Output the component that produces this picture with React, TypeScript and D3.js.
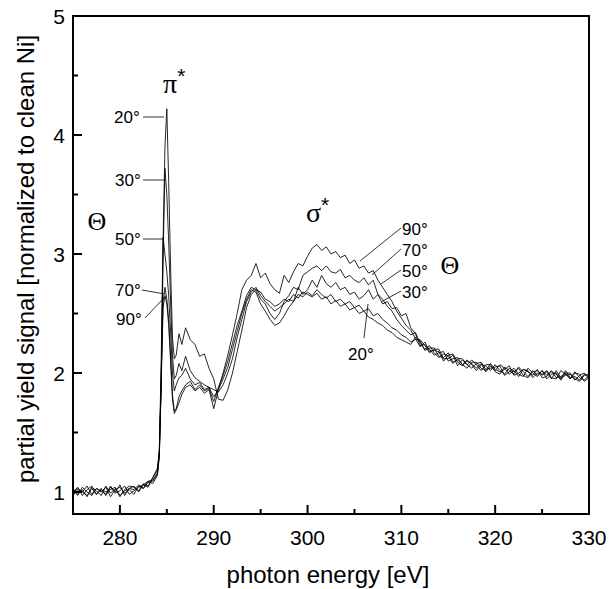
import React from "react";
import * as d3 from "d3";

const energies = [
  275, 275.5, 276, 276.5, 277, 277.5, 278, 278.5, 279, 279.5, 280, 280.5, 281, 281.5, 282, 282.5, 283, 283.5, 284,
  284.2, 284.4, 284.6, 284.8, 285.0, 285.2, 285.4, 285.6, 285.8, 286.0, 286.3, 286.6,
  287, 287.5, 288, 288.5, 289, 289.5, 290, 290.5, 291, 291.5, 292, 292.5, 293, 293.5, 294, 294.5,
  295, 295.5, 296, 296.5, 297, 297.5, 298, 298.5, 299, 299.5, 300, 300.5, 301, 301.5, 302, 302.5, 303, 303.5, 304, 304.5,
  305, 305.5, 306, 306.5, 307, 307.5, 308, 308.5, 309, 309.5, 310, 310.5, 311,
  311.5, 312, 312.5, 313, 313.5, 314, 314.5, 315, 315.5, 316, 316.5, 317, 317.5, 318, 318.5, 319, 319.5, 320,
  320.5, 321, 321.5, 322, 322.5, 323, 323.5, 324, 324.5, 325, 325.5, 326, 326.5, 327, 327.5, 328, 328.5, 329, 329.5, 330,
];

const yield20 = [
  1.00, 1.04, 0.97, 1.02, 1.05, 0.98, 1.03, 0.97, 1.04, 1.00, 1.06, 0.97, 1.03, 1.02, 1.06, 1.03, 1.09, 1.10, 1.16,
  1.30, 1.90, 3.10, 3.90, 4.22, 3.60, 2.90, 2.30, 2.12, 2.15, 2.33, 2.24,
  2.38, 2.28, 2.24, 2.14, 2.16, 2.04, 1.95, 1.78, 1.77, 1.86, 2.00, 2.18, 2.36, 2.55, 2.66, 2.70,
  2.68, 2.62, 2.60, 2.56, 2.58, 2.62, 2.60, 2.66, 2.63, 2.68, 2.66, 2.64, 2.67, 2.62, 2.64, 2.58, 2.61, 2.56, 2.58, 2.53,
  2.55, 2.50, 2.52, 2.47, 2.45, 2.42, 2.40, 2.36, 2.34, 2.30, 2.28, 2.26, 2.24,
  2.30, 2.27, 2.19, 2.21, 2.21, 2.14, 2.13, 2.17, 2.09, 2.11, 2.07, 2.11, 2.07, 2.02, 2.07, 2.06, 2.02, 2.07,
  2.02, 1.99, 2.04, 2.01, 2.04, 1.98, 1.96, 2.01, 2.02, 1.98, 2.01, 1.95, 2.02, 1.96, 1.98, 1.99, 1.94, 1.98, 2.00, 1.95,
];

const yield30 = [
  1.03, 0.98, 1.02, 0.96, 1.04, 1.01, 0.97, 1.05, 0.99, 1.03, 0.96, 1.02, 1.05, 1.04, 1.01, 1.07, 1.05, 1.12, 1.18,
  1.32, 1.95, 2.95, 3.72, 3.50, 3.10, 2.60, 2.15, 1.95, 1.98, 2.08, 2.02,
  2.14, 2.02, 1.96, 1.93, 1.90, 1.88, 1.86, 1.84, 1.90, 2.00, 2.12, 2.30, 2.45, 2.60, 2.68, 2.72,
  2.65, 2.60, 2.56, 2.52, 2.55, 2.58, 2.62, 2.60, 2.66, 2.64, 2.68, 2.65, 2.70, 2.66, 2.63, 2.66, 2.60, 2.62, 2.58, 2.60,
  2.55, 2.57, 2.52, 2.54, 2.48, 2.50, 2.45, 2.42, 2.38, 2.36, 2.32, 2.30, 2.26,
  2.28, 2.28, 2.23, 2.17, 2.20, 2.20, 2.12, 2.12, 2.15, 2.06, 2.11, 2.07, 2.11, 2.07, 2.02, 2.07, 2.07, 2.01,
  1.99, 2.05, 2.02, 1.99, 2.05, 2.01, 1.97, 2.02, 1.98, 2.02, 1.95, 1.99, 2.00, 1.95, 2.02, 1.96, 1.97, 1.94, 1.99, 1.97,
];

const yield50 = [
  0.97, 1.02, 1.00, 1.05, 0.98, 1.03, 1.00, 1.04, 0.96, 1.02, 1.04, 0.99, 1.02, 0.98, 1.05, 1.03, 1.08, 1.09, 1.15,
  1.35, 2.10, 3.14, 3.00, 2.85, 2.65, 2.35, 2.00, 1.85, 1.90, 1.96, 1.98,
  2.04, 1.95, 1.90, 1.92, 1.86, 1.88, 1.80, 1.86, 1.95, 2.05, 2.20, 2.35, 2.50, 2.62, 2.70, 2.68,
  2.58, 2.52, 2.45, 2.40, 2.42, 2.48, 2.55, 2.60, 2.72, 2.66, 2.70, 2.78, 2.72, 2.82, 2.75, 2.72, 2.76, 2.70, 2.72, 2.66,
  2.68, 2.62, 2.65, 2.70, 2.62, 2.66, 2.58, 2.60, 2.54, 2.55, 2.48, 2.50, 2.38,
  2.33, 2.23, 2.24, 2.20, 2.15, 2.17, 2.18, 2.10, 2.12, 2.13, 2.07, 2.04, 2.09, 2.09, 2.04, 2.02, 2.08, 2.03,
  2.01, 2.03, 2.06, 1.98, 2.00, 2.03, 2.02, 1.96, 2.00, 1.99, 2.02, 1.96, 1.95, 2.02, 1.99, 1.95, 2.00, 1.99, 1.93, 1.96,
];

const yield70 = [
  1.02, 0.97, 1.04, 1.00, 0.97, 1.03, 1.01, 0.98, 1.05, 0.99, 1.01, 1.05, 0.98, 1.01, 1.04, 1.06, 1.04, 1.12, 1.20,
  1.35, 1.95, 2.60, 2.72, 2.62, 2.45, 2.15, 1.82, 1.68, 1.70, 1.80, 1.85,
  1.90, 1.93, 1.86, 1.90, 1.85, 1.87, 1.76, 1.88, 1.98, 2.10, 2.25, 2.40, 2.52, 2.65, 2.72, 2.70,
  2.62, 2.58, 2.50, 2.45, 2.50, 2.60, 2.65, 2.72, 2.70, 2.82, 2.85, 2.88, 2.90, 2.86, 2.90, 2.85, 2.84, 2.87, 2.80, 2.82,
  2.78, 2.76, 2.80, 2.74, 2.78, 2.66, 2.62, 2.56, 2.52, 2.45, 2.40, 2.36, 2.32,
  2.34, 2.25, 2.20, 2.23, 2.17, 2.13, 2.16, 2.14, 2.08, 2.12, 2.12, 2.07, 2.04, 2.08, 2.09, 2.03, 2.04, 2.05,
  2.06, 1.98, 2.01, 2.04, 1.99, 1.97, 2.04, 2.00, 1.97, 2.02, 1.98, 2.02, 1.96, 1.97, 2.00, 2.00, 1.95, 1.93, 1.98, 1.99,
];

const yield90 = [
  0.99, 1.03, 1.00, 0.97, 1.03, 0.98, 1.02, 1.00, 1.02, 1.04, 0.97, 1.01, 1.03, 1.05, 1.00, 1.06, 1.09, 1.07, 1.14,
  1.30, 1.90, 2.55, 2.65, 2.58, 2.40, 2.10, 1.78, 1.66, 1.69, 1.75, 1.82,
  1.88, 1.90, 1.85, 1.88, 1.83, 1.86, 1.70, 1.86, 2.00, 2.15, 2.32, 2.50, 2.70, 2.78, 2.82, 2.92,
  2.80, 2.84, 2.75, 2.70, 2.67, 2.82, 2.76, 2.85, 2.92, 2.90, 2.98, 3.05, 3.08, 3.03, 3.06, 3.00, 3.02, 2.97, 2.99, 2.92,
  2.95, 2.88, 2.90, 2.84, 2.86, 2.78, 2.72, 2.66, 2.60, 2.52, 2.46, 2.40, 2.36,
  2.29, 2.22, 2.26, 2.18, 2.19, 2.18, 2.10, 2.15, 2.16, 2.09, 2.06, 2.10, 2.08, 2.04, 2.08, 2.01, 2.06, 2.02,
  2.07, 2.04, 1.99, 2.02, 1.97, 2.03, 2.01, 1.98, 2.03, 1.96, 1.97, 2.01, 1.99, 1.94, 2.00, 1.95, 2.01, 1.96, 1.94, 1.98,
];

const seriesList = [yield20, yield30, yield50, yield70, yield90];

const xTicks = [280, 290, 300, 310, 320, 330];
const xMinorTicks = [285, 295, 305, 315, 325];
const yTicks = [1, 2, 3, 4, 5];
const yMinorTicks = [1.5, 2.5, 3.5, 4.5];

const angleLabels = ["20°", "30°", "50°", "70°", "90°"];

// label positions (pixels) and pointer segments
const leftLabelPos = [
  { x: 114, y: 123, lx1: 143, ly1: 117, lx2: 164, ly2: 117 },
  { x: 115, y: 186, lx1: 143, ly1: 180, lx2: 165, ly2: 180 },
  { x: 115, y: 245, lx1: 143, ly1: 239, lx2: 163, ly2: 239 },
  { x: 115, y: 296, lx1: 142, ly1: 290, lx2: 165, ly2: 294 },
  { x: 116, y: 325, lx1: 145, ly1: 318, lx2: 163, ly2: 299 },
];
const rightLabelPos = [
  { x: 348, y: 360, lx1: 364, ly1: 338, lx2: 368, ly2: 304 },
  { x: 402, y: 298, lx1: 401, ly1: 291, lx2: 381, ly2: 302 },
  { x: 402, y: 277, lx1: 401, ly1: 270, lx2: 381, ly2: 284 },
  { x: 402, y: 256, lx1: 401, ly1: 249, lx2: 372, ly2: 275 },
  { x: 402, y: 235, lx1: 401, ly1: 228, lx2: 360, ly2: 261 },
];

export default function App() {
  const W = 612;
  const H = 589;
  const left = 73, right = 589, top = 16, bottom = 514;

  const x = d3.scaleLinear().domain([275, 330]).range([left, right]);
  const y = d3.scaleLinear().domain([0.815, 5]).range([bottom, top]);

  const line = d3
    .line<number>()
    .x((_, i) => x(energies[i]))
    .y((d) => y(d));

  const sans = "'Liberation Sans', Arial, Helvetica, sans-serif";
  const serif = "'Liberation Serif', 'Times New Roman', serif";

  return (
    <svg
      width={W}
      height={H}
      viewBox={`0 0 ${W} ${H}`}
      style={{ position: "absolute", left: 0, top: 0, background: "#fff" }}
    >
      <rect x={0} y={0} width={W} height={H} fill="#fff" />
      <defs>
        <clipPath id="plotclip">
          <rect x={left} y={top} width={right - left} height={bottom - top} />
        </clipPath>
      </defs>

      <g clipPath="url(#plotclip)">
        {seriesList.map((s, i) => (
          <path key={i} d={line(s) || ""} fill="none" stroke="#000" strokeWidth={0.85} strokeLinejoin="round" />
        ))}
      </g>

      <rect x={left} y={top} width={right - left} height={bottom - top} fill="none" stroke="#000" strokeWidth={2} />

      {xTicks.map((t) => (
        <g key={"xt" + t}>
          <line x1={x(t)} x2={x(t)} y1={bottom} y2={bottom - 9} stroke="#000" strokeWidth={2} />
          <text x={x(t)} y={545} textAnchor="middle" fontFamily={sans} fontSize={21} fill="#000">
            {t}
          </text>
        </g>
      ))}
      {xMinorTicks.map((t) => (
        <line key={"xm" + t} x1={x(t)} x2={x(t)} y1={bottom} y2={bottom - 5} stroke="#000" strokeWidth={2} />
      ))}

      {yTicks.map((t) => (
        <g key={"yt" + t}>
          <line x1={left} x2={left + 9} y1={y(t)} y2={y(t)} stroke="#000" strokeWidth={2} />
          <text x={65} y={y(t)} dy="0.36em" textAnchor="end" fontFamily={sans} fontSize={21} fill="#000">
            {t}
          </text>
        </g>
      ))}
      {yMinorTicks.map((t) => (
        <line key={"ym" + t} x1={left} x2={left + 5} y1={y(t)} y2={y(t)} stroke="#000" strokeWidth={2} />
      ))}

      <text x={328} y={583} textAnchor="middle" fontFamily={sans} fontSize={24} fill="#000">
        photon energy [eV]
      </text>
      <text
        transform="translate(34,259) rotate(-90)"
        textAnchor="middle"
        fontFamily={sans}
        fontSize={24}
        fill="#000"
      >
        partial yield signal [normalized to clean Ni]
      </text>

      <text x={163} y={93} fontFamily={serif} fontSize={28} fill="#000">
        π<tspan fontFamily={sans} fontSize={21} dy={-10}>*</tspan>
      </text>
      <text x={306} y={222} fontFamily={serif} fontSize={28} fill="#000">
        σ<tspan fontFamily={sans} fontSize={21} dy={-10}>*</tspan>
      </text>
      <text x={97} y={221} textAnchor="middle" dominantBaseline="central" fontFamily={serif} fontSize={26} fill="#000">
        Θ
      </text>
      <text x={450} y={265} textAnchor="middle" dominantBaseline="central" fontFamily={serif} fontSize={26} fill="#000">
        Θ
      </text>

      {angleLabels.map((lab, i) => {
        const p = leftLabelPos[i];
        return (
          <g key={"la" + i}>
            <text x={p.x} y={p.y} fontFamily={sans} fontSize={17} fill="#000">
              {lab}
            </text>
            <line x1={p.lx1} y1={p.ly1} x2={p.lx2} y2={p.ly2} stroke="#000" strokeWidth={0.8} />
          </g>
        );
      })}
      {angleLabels.map((lab, i) => {
        const p = rightLabelPos[i];
        return (
          <g key={"ra" + i}>
            <text x={p.x} y={p.y} fontFamily={sans} fontSize={17} fill="#000">
              {lab}
            </text>
            <line x1={p.lx1} y1={p.ly1} x2={p.lx2} y2={p.ly2} stroke="#000" strokeWidth={0.8} />
          </g>
        );
      })}
    </svg>
  );
}
